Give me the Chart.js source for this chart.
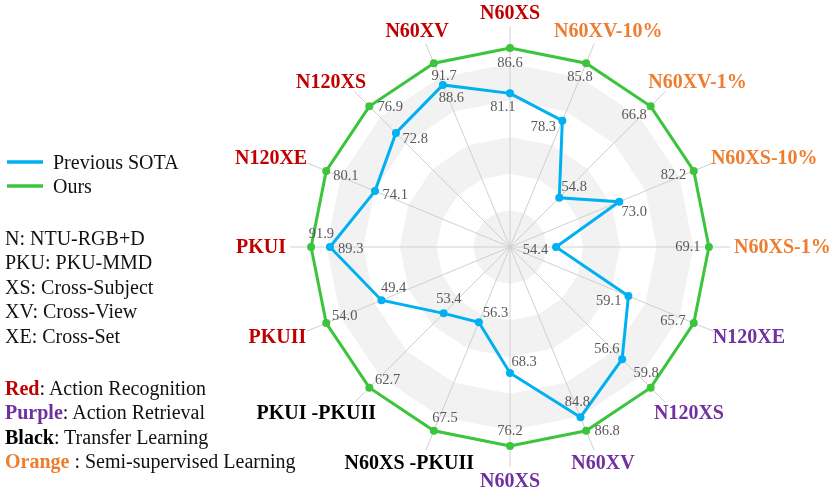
<!DOCTYPE html>
<html>
<head>
<meta charset="utf-8">
<title>Radar comparison</title>
<script src="https://cdn.jsdelivr.net/npm/chart.js@4.4.1/dist/chart.umd.min.js"></script>
<style>
    body { margin: 0; background: #fff; }
    #wrap { position: relative; width: 830px; height: 491px; }
    .notes {
        position: absolute;
        left: 5px;
        font: 20px "Times New Roman", "Liberation Serif", serif;
        line-height: 24.4px;
        color: #111;
        white-space: nowrap;
    }
</style>
</head>
<body>
<div id="wrap">
    <canvas id="radar" width="830" height="491"></canvas>
    <div class="notes" style="top:226px">
        N: NTU-RGB+D<br>PKU: PKU-MMD<br>XS: Cross-Subject<br>XV: Cross-View<br>XE: Cross-Set
    </div>
    <div class="notes" style="top:376px">
        <b style="color:#c00000">Red</b>: Action Recognition<br>
        <b style="color:#7030a0">Purple</b>: Action Retrieval<br>
        <b style="color:#000">Black</b>: Transfer Learning<br>
        <b style="color:#ed7d31">Orange</b> : Semi-supervised Learning
    </div>
</div>
<script>
// axes, clockwise from the top
const axisLabels = ["N60XS", "N60XV-10%", "N60XV-1%", "N60XS-10%", "N60XS-1%", "N120XE", "N120XS", "N60XV",
    "N60XS", "N60XS -PKUII", "PKUI -PKUII", "PKUII", "PKUI", "N120XE", "N120XS", "N60XV"];
const axisTask = ["rec", "semi", "semi", "semi", "semi", "ret", "ret", "ret",
    "ret", "transfer", "transfer", "rec", "rec", "rec", "rec", "rec"];

// scores printed next to the marks
const oursScore = [86.6, 85.8, 66.8, 82.2, 69.1, 65.7, 59.8, 86.8, 76.2, 67.5, 62.7, 54.0, 91.9, 80.1, 76.9, 91.7];
const prevScore = [81.1, 78.3, 54.8, 73.0, 54.4, 59.1, 56.6, 84.8, 68.3, 56.3, 53.4, 49.4, 89.3, 74.1, 72.8, 88.6];

// radial position of every mark (axis runs 0 .. 1.2)
const oursRadius = [1.085, 1.085, 1.085, 1.085, 1.085, 1.085, 1.085, 1.085,
    1.085, 1.085, 1.085, 1.085, 1.085, 1.085, 1.085, 1.085];
const prevRadius = [0.838, 0.746, 0.380, 0.645, 0.251, 0.699, 0.865, 1.005,
    0.687, 0.444, 0.512, 0.759, 0.982, 0.797, 0.880, 0.957];

// which side of its mark each score sits on (degrees, 0 = right, 90 = down)
const oursLabelDir = [90, 113, 151, 169, 180, 186, 253, 0, 270, 311, 338, 339, 308, 15, 3, 52];
const prevLabelDir = [117, 161, 325, 35, 171, 165, 214, 258, 322, 331, 290, 315, 5, 11, 17, 58];

const taskColor = { rec: "#c00000", semi: "#ed7d31", ret: "#7030a0", transfer: "#000000" };
const serif = '"Times New Roman", "Liberation Serif", serif';

// alternating grey rings behind the web
const bandPlugin = {
    id: "bands",
    beforeDraw(chart) {
        const r = chart.scales.r;
        const ctx = chart.ctx;
        const n = chart.data.labels.length;
        ctx.save();
        for (let k = r.ticks.length - 1; k > 0; k--) {
            const d = r.getDistanceFromCenterForValue(r.ticks[k].value);
            ctx.beginPath();
            for (let i = 0; i < n; i++) {
                const p = r.getPointPosition(i, d);
                if (i === 0) ctx.moveTo(p.x, p.y); else ctx.lineTo(p.x, p.y);
            }
            ctx.closePath();
            ctx.fillStyle = k % 2 ? "#f2f2f2" : "#ffffff";
            ctx.fill();
        }
        ctx.restore();
    }
};

// coloured axis names
const axisLabelPlugin = {
    id: "axisLabels",
    afterDraw(chart) {
        const r = chart.scales.r;
        const ctx = chart.ctx;
        ctx.save();
        ctx.font = "bold 20px " + serif;
        ctx.textAlign = "center";
        ctx.textBaseline = "middle";
        axisLabels.forEach((txt, i) => {
            const a = r.getIndexAngle(i);
            const s = Math.sin(a), c = Math.cos(a);
            const p = r.getPointPosition(i, r.drawingArea + 2);
            const w = ctx.measureText(txt).width;
            const x = p.x + Math.sign(s) * Math.pow(Math.abs(s), 1.5) * (w / 2 + 2);
            const y = p.y + 1 - c * 12;
            ctx.fillStyle = taskColor[axisTask[i]];
            ctx.fillText(txt, x, y);
        });
        ctx.restore();
    }
};

// score next to each point
const valueLabelPlugin = {
    id: "valueLabels",
    afterDatasetsDraw(chart) {
        const ctx = chart.ctx;
        ctx.save();
        ctx.font = "14.5px " + serif;
        ctx.fillStyle = "#595959";
        ctx.textAlign = "center";
        ctx.textBaseline = "middle";
        chart.data.datasets.forEach((ds, di) => {
            chart.getDatasetMeta(di).data.forEach((pt, i) => {
                const a = ds.labelDir[i] * Math.PI / 180;
                const c = Math.cos(a), s = Math.sin(a);
                const d = 1 / Math.sqrt((c / 21) ** 2 + (s / 15) ** 2);
                ctx.fillText(ds.scores[i].toFixed(1), pt.x + c * d, pt.y + s * d);
            });
        });
        ctx.restore();
    }
};

// legend on the left
const sideLegendPlugin = {
    id: "sideLegend",
    afterDraw(chart) {
        const ctx = chart.ctx;
        ctx.save();
        ctx.font = "20px " + serif;
        ctx.textBaseline = "middle";
        chart.data.datasets.forEach((ds, i) => {
            const y = 162 + i * 24;
            ctx.strokeStyle = ds.borderColor;
            ctx.lineWidth = 3.5;
            ctx.beginPath();
            ctx.moveTo(7, y);
            ctx.lineTo(43, y);
            ctx.stroke();
            ctx.fillStyle = "#111";
            ctx.fillText(ds.label, 53, y + 1.5);
        });
        ctx.restore();
    }
};

new Chart(document.getElementById("radar"), {
    type: "radar",
    data: {
        labels: axisLabels,
        datasets: [{
            label: "Previous SOTA",
            data: prevRadius,
            scores: prevScore,
            labelDir: prevLabelDir,
            borderColor: "#00b0f0",
            backgroundColor: "#00b0f0",
            borderWidth: 3,
            pointRadius: 4,
            pointBorderWidth: 0,
            fill: false
        }, {
            label: "Ours",
            data: oursRadius,
            scores: oursScore,
            labelDir: oursLabelDir,
            borderColor: "#3cc43c",
            backgroundColor: "#3cc43c",
            borderWidth: 3,
            pointRadius: 4,
            pointBorderWidth: 0,
            fill: false
        }]
    },
    options: {
        responsive: false,
        animation: false,
        layout: { padding: { left: 290, right: 100, top: 27, bottom: 24 } },
        plugins: {
            legend: { display: false },
            tooltip: { enabled: false }
        },
        scales: {
            r: {
                min: 0,
                max: 1.2,
                ticks: { display: false, stepSize: 0.2 },
                grid: { display: false },
                angleLines: { color: "#d0d0d0", lineWidth: 1 },
                pointLabels: { display: false }
            }
        }
    },
    plugins: [bandPlugin, axisLabelPlugin, valueLabelPlugin, sideLegendPlugin]
});
</script>
</body>
</html>
